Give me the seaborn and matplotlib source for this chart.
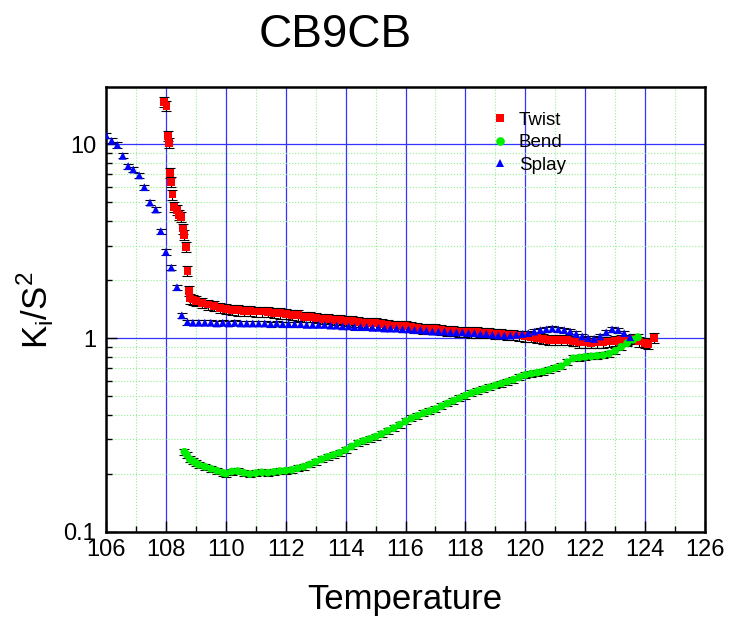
import numpy as np
import pandas as pd
import matplotlib
matplotlib.use('Agg')
import matplotlib.pyplot as plt
from matplotlib.ticker import FixedLocator, LogLocator, NullFormatter, FixedFormatter
import seaborn as sns

# Twist (K2/S^2)
twist_T = [107.94, 108.02, 108.06, 108.10, 108.13, 108.18, 108.22, 108.27, 108.38, 108.43,
           108.50, 108.56, 108.61, 108.67, 108.72, 108.77, 108.80, 108.9, 109.0, 109.2,
           109.4, 109.6, 109.8, 110.0, 110.2, 110.4, 110.6, 110.8, 111.0, 111.2,
           111.4, 111.6, 111.8, 112.0, 112.2, 112.4, 112.6, 112.8, 113.0, 113.2,
           113.4, 113.6, 113.8, 114.0, 114.2, 114.4, 114.6, 114.8, 115.0, 115.2,
           115.4, 115.6, 115.8, 116.0, 116.2, 116.4, 116.6, 116.8, 117.0, 117.2,
           117.4, 117.6, 117.8, 118.0, 118.2, 118.4, 118.6, 118.8, 119.0, 119.2,
           119.4, 119.6, 119.8, 120.0, 120.2, 120.4, 120.6, 120.8, 121.0, 121.2,
           121.4, 121.6, 121.8, 122.0, 122.2, 122.4, 122.6, 122.8, 123.0, 123.2,
           123.4, 123.6, 123.8, 124.0, 124.1, 124.3]
twist_K = [16.5, 15.7, 11.0, 10.1, 7.1, 6.4, 5.5, 4.75, 4.57, 4.3,
           4.2, 3.67, 3.4, 2.96, 2.21, 1.75, 1.60, 1.58, 1.55, 1.52,
           1.49, 1.46, 1.43, 1.41, 1.40, 1.39, 1.38, 1.38, 1.37, 1.37,
           1.36, 1.35, 1.34, 1.33, 1.32, 1.31, 1.29, 1.28, 1.27, 1.26,
           1.25, 1.24, 1.24, 1.23, 1.22, 1.21, 1.20, 1.19, 1.19, 1.18,
           1.17, 1.16, 1.15, 1.15, 1.14, 1.13, 1.12, 1.11, 1.11, 1.10,
           1.09, 1.09, 1.08, 1.08, 1.07, 1.07, 1.06, 1.06, 1.05, 1.05,
           1.04, 1.04, 1.03, 1.02, 1.01, 1.00, 0.99, 0.98, 0.98, 0.98,
           0.98, 0.97, 0.95, 0.95, 0.94, 0.95, 0.95, 0.96, 0.97, 0.98,
           0.98, 0.99, 0.96, 0.94, 0.93, 1.00]

# Bend (K3/S^2)
bend_T = [108.62, 108.7, 108.8, 108.9, 109.0, 109.1, 109.3, 109.5, 109.7, 109.9,
          110.0, 110.2, 110.4, 110.6, 110.8, 111.0, 111.2, 111.4, 111.6, 111.8,
          112.0, 112.2, 112.4, 112.6, 112.8, 113.0, 113.2, 113.4, 113.6, 113.8,
          114.0, 114.2, 114.4, 114.6, 114.8, 115.0, 115.2, 115.4, 115.6, 115.8,
          116.0, 116.2, 116.4, 116.6, 116.8, 117.0, 117.2, 117.4, 117.6, 117.8,
          118.0, 118.2, 118.4, 118.6, 118.8, 119.0, 119.2, 119.4, 119.6, 119.8,
          120.0, 120.2, 120.4, 120.6, 120.8, 121.0, 121.2, 121.4, 121.6, 121.8,
          122.0, 122.2, 122.4, 122.6, 122.8, 123.0, 123.2, 123.4, 123.6, 123.76]
bend_K = [0.259, 0.250, 0.237, 0.232, 0.227, 0.222, 0.217, 0.212, 0.207, 0.202,
          0.200, 0.205, 0.206, 0.202, 0.199, 0.201, 0.203, 0.202, 0.204, 0.206,
          0.207, 0.209, 0.213, 0.217, 0.223, 0.230, 0.237, 0.244, 0.250, 0.256,
          0.265, 0.276, 0.287, 0.295, 0.302, 0.310, 0.320, 0.332, 0.343, 0.357,
          0.372, 0.386, 0.397, 0.410, 0.420, 0.430, 0.445, 0.460, 0.475, 0.490,
          0.505, 0.520, 0.533, 0.545, 0.557, 0.570, 0.583, 0.596, 0.610, 0.628,
          0.645, 0.655, 0.663, 0.672, 0.685, 0.700, 0.715, 0.750, 0.786, 0.793,
          0.800, 0.805, 0.810, 0.815, 0.830, 0.860, 0.900, 0.940, 0.980, 1.010]

# Splay (K1/S^2)
splay_T = [106.0, 106.19, 106.38, 106.56, 106.74, 106.91, 107.11, 107.28, 107.47, 107.66,
           107.83, 108.0, 108.18, 108.37, 108.53, 108.72, 108.9, 109.1, 109.3, 109.5,
           109.7, 109.9, 110.1, 110.3, 110.5, 110.7, 110.9, 111.1, 111.3, 111.5,
           111.7, 111.9, 112.1, 112.3, 112.5, 112.7, 112.9, 113.1, 113.3, 113.5,
           113.7, 113.9, 114.1, 114.3, 114.5, 114.7, 114.9, 115.1, 115.3, 115.5,
           115.7, 115.9, 116.1, 116.3, 116.5, 116.7, 116.9, 117.1, 117.3, 117.5,
           117.7, 117.9, 118.1, 118.3, 118.5, 118.7, 118.9, 119.1, 119.3, 119.5,
           119.7, 119.9, 120.1, 120.3, 120.5, 120.7, 120.9, 121.1, 121.3, 121.5,
           121.7, 121.9, 122.1, 122.3, 122.5, 122.7, 122.9, 123.1, 123.3, 123.5]
splay_K = [11.1, 10.4, 9.9, 8.7, 7.7, 7.4, 6.9, 6.0, 5.0, 4.6,
           3.56, 2.78, 2.31, 1.83, 1.31, 1.21, 1.20, 1.20, 1.20, 1.20,
           1.19, 1.20, 1.19, 1.20, 1.19, 1.19, 1.19, 1.19, 1.19, 1.18,
           1.19, 1.18, 1.18, 1.18, 1.18, 1.17, 1.17, 1.17, 1.17, 1.16,
           1.16, 1.15, 1.15, 1.14, 1.14, 1.14, 1.13, 1.13, 1.12, 1.12,
           1.12, 1.11, 1.11, 1.10, 1.10, 1.09, 1.08, 1.08, 1.08, 1.07,
           1.07, 1.07, 1.06, 1.06, 1.05, 1.05, 1.04, 1.03, 1.03, 1.03,
           1.04, 1.05, 1.06, 1.08, 1.10, 1.11, 1.12, 1.11, 1.10, 1.08,
           1.05, 1.02, 1.00, 0.99, 1.02, 1.07, 1.11, 1.10, 1.06, 1.01]

rel_err = {'Twist': 0.06, 'Bend': 0.035, 'Splay': 0.03}
series_order = ['Twist', 'Bend', 'Splay']
colors = {'Twist': '#ff0000', 'Bend': '#00ee00', 'Splay': '#0000ff'}
markers = {'Twist': 's', 'Bend': 'o', 'Splay': '^'}

df = pd.concat([
    pd.DataFrame({'T': twist_T, 'K': twist_K, 'series': 'Twist'}),
    pd.DataFrame({'T': bend_T, 'K': bend_K, 'series': 'Bend'}),
    pd.DataFrame({'T': splay_T, 'K': splay_K, 'series': 'Splay'}),
], ignore_index=True)

sns.set_style('white', {'text.color': 'black', 'axes.labelcolor': 'black',
                        'xtick.color': 'black', 'ytick.color': 'black'})
plt.rcParams['font.family'] = ['Liberation Sans', 'DejaVu Sans']

fig = plt.figure(figsize=(7.33, 6.18), dpi=100)
ax = fig.add_axes([106/733, 1-532/618, 599/733, 445/618])

# minor / major grid first
ax.set_yscale('log')
ax.set_xlim(106, 126)
ax.set_ylim(0.1, 19.7)
ax.xaxis.set_major_locator(FixedLocator(np.arange(106, 127, 2)))
ax.xaxis.set_minor_locator(FixedLocator(np.arange(106, 127, 1)))
ax.yaxis.set_major_locator(FixedLocator([0.1, 1, 10]))
ax.yaxis.set_major_formatter(FixedFormatter(['0.1', '1', '10']))
ax.yaxis.set_minor_locator(LogLocator(base=10, subs=np.arange(2, 10)))
ax.yaxis.set_minor_formatter(NullFormatter())
ax.grid(which='minor', color='#90ee90', linestyle=':', linewidth=0.8)
ax.grid(which='major', color='#3333ff', linestyle='-', linewidth=0.9)
ax.set_axisbelow(True)

for name in series_order:
    sub = df[df['series'] == name]
    ax.errorbar(sub['T'], sub['K'], yerr=sub['K'] * rel_err[name], fmt='none',
                ecolor='black', elinewidth=0.8, capsize=3.5, capthick=0.8, zorder=2)

sns.scatterplot(data=df, x='T', y='K', hue='series', style='series',
                hue_order=series_order, style_order=series_order,
                palette=colors, markers=markers, s=32, linewidth=0,
                ax=ax, zorder=3)

handles, labels = ax.get_legend_handles_labels()
ax.legend(handles, labels, loc='upper left', bbox_to_anchor=(0.622, 0.962),
          frameon=False, fontsize=13.5, handletextpad=0.25, labelspacing=0.3,
          markerscale=1.1, borderaxespad=0, handlelength=1.5)

ax.set_xlabel('')
ax.set_ylabel('')
ax.tick_params(axis='both', which='major', direction='in', length=8, width=1,
               labelsize=17, pad=5, bottom=True, left=True)
ax.tick_params(axis='both', which='minor', direction='in', length=4, width=1,
               bottom=True, left=True)
ax.tick_params(axis='y', which='major', pad=7)
for sp in ax.spines.values():
    sp.set_color('black')
    sp.set_linewidth(1.8)

fig.text(335/733, 1-35/618, 'CB9CB', fontsize=33, ha='center', va='center')
fig.text(405/733, 1-600/618, 'Temperature', fontsize=25, ha='center', va='center')
fig.text(35/733, 1-310/618, r'K$_\mathregular{i}$/S$^\mathregular{2}$', fontsize=25,
         rotation=90, ha='center', va='center')

fig.savefig('out.png', dpi=100)
